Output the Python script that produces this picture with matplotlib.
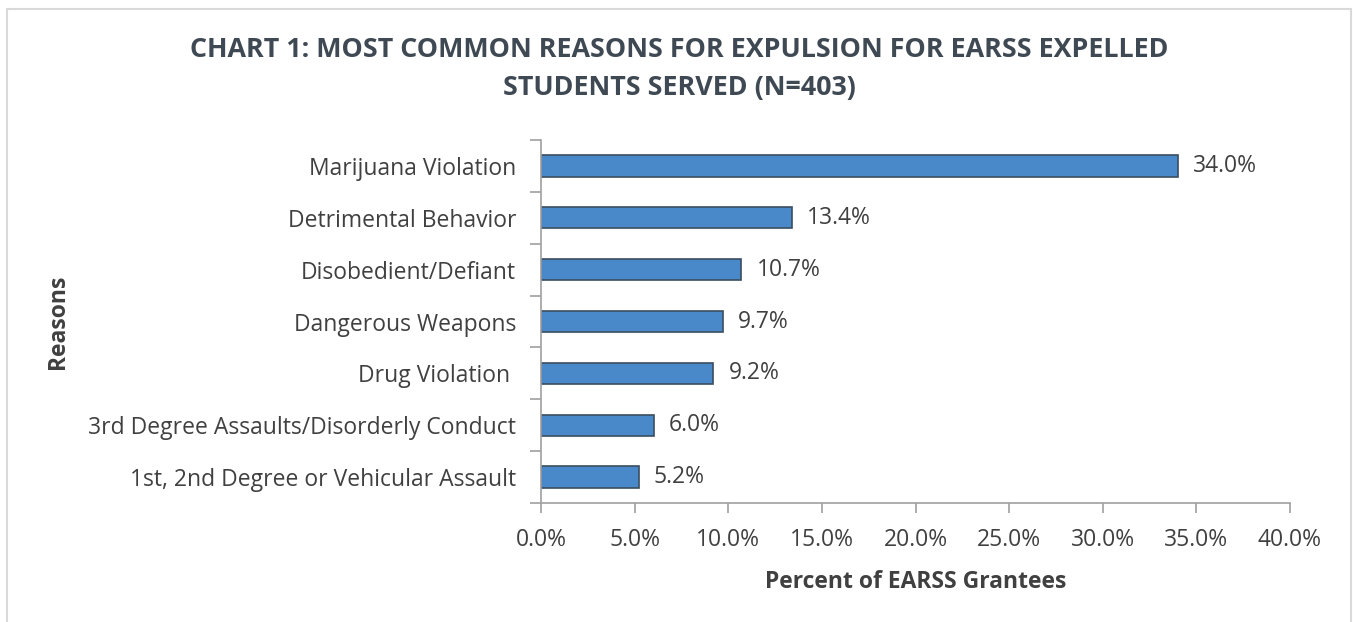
import matplotlib
matplotlib.use('Agg')
import matplotlib.pyplot as plt
from matplotlib.patches import Rectangle
from matplotlib.ticker import FuncFormatter, MultipleLocator
import numpy as np

plt.rcParams['font.family'] = ['Open Sans', 'DejaVu Sans']

# данные с графика (сверху вниз)
reasons = ['Marijuana Violation', 'Detrimental Behavior', 'Disobedient/Defiant',
           'Dangerous Weapons', 'Drug Violation ', '3rd Degree Assaults/Disorderly Conduct',
           '1st, 2nd Degree or Vehicular Assault']
percents = [34.0, 13.4, 10.7, 9.7, 9.2, 6.0, 5.2]

text_col = '#404040'
bar_col = '#4A89C9'
edge_col = '#3B4E60'
axis_col = '#A0A0A0'
fs = 16.5

fig = plt.figure(figsize=(13.53, 6.22), dpi=100)
ax = fig.add_axes([0.400, 0.1913, 0.5534, 0.5836])

y = np.arange(len(reasons))
ax.barh(y, percents, height=0.41, color=bar_col, edgecolor=edge_col, linewidth=1.2)
ax.set_ylim(len(reasons) - 0.5, -0.5)
ax.set_xlim(0, 40)

# подписи значений
for yi, v in zip(y, percents):
    ax.text(v + 0.8, yi, f'{v:.1f}%', va='center', ha='left', fontsize=fs, color=text_col)

ax.xaxis.set_major_locator(MultipleLocator(5))
ax.xaxis.set_major_formatter(FuncFormatter(lambda v, p: f'{v:.1f}%'))
ax.set_yticks(y)
ax.set_yticklabels(reasons)
ax.set_yticks(np.arange(-0.5, len(reasons)), minor=True)
ax.tick_params(axis='y', which='major', length=0, pad=18, labelsize=fs, labelcolor=text_col)
ax.tick_params(axis='y', which='minor', length=8, width=1.2, color=axis_col, direction='out')
ax.tick_params(axis='x', length=7, width=1.2, color=axis_col, pad=11, labelsize=fs, labelcolor=text_col)

for s in ['top', 'right']:
    ax.spines[s].set_visible(False)
for s in ['left', 'bottom']:
    ax.spines[s].set_color(axis_col)
    ax.spines[s].set_linewidth(1.2)

ax.set_xlabel('Percent of EARSS Grantees', fontsize=fs, fontweight='bold', color=text_col, labelpad=13)
fig.text(0.043, 0.482, 'Reasons', rotation=90, ha='center', va='center',
         fontsize=fs, fontweight='bold', color=text_col)

fig.text(0.502, 0.889, 'CHART 1: MOST COMMON REASONS FOR EXPULSION FOR EARSS EXPELLED\nSTUDENTS SERVED (N=403)',
         ha='center', va='center', fontsize=19.4, fontweight='bold', color='#3F4953', linespacing=1.56)

# рамка вокруг диаграммы
fig.patches.append(Rectangle((7 / 1353, -0.05), 1344 / 1353, 1.05 - 9 / 622,
                             transform=fig.transFigure, fill=False,
                             edgecolor='#D9D9D9', linewidth=1.5))

fig.savefig('out.png', dpi=100)
